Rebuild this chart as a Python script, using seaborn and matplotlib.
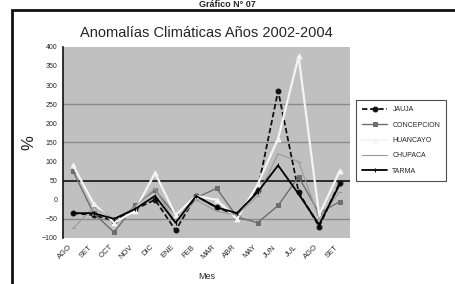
import seaborn as sns
import matplotlib.pyplot as plt
import matplotlib.patches as patches
import pandas as pd

# Month labels (Ago 2002 ... Set 2003 style axis)
meses = ['AGO', 'SET', 'OCT', 'NOV', 'DIC', 'ENE', 'FEB', 'MAR',
         'ABR', 'MAY', 'JUN', 'JUL', 'AGO', 'SET']

# Anomaly values (%)
jauja = [-35, -40, -55, -25, 0, -80, 10, -20, -40, 25, 285, 20, -70, 45]
concepcion = [75, -35, -85, -15, 25, -40, 5, 30, -45, -60, -15, 60, -35, -5]
huancayo = [90, -10, -60, -30, 70, -40, 10, 0, -50, 40, 160, 375, -40, 75]
chupaca = [-75, -20, -50, -20, 30, -60, 0, -30, -40, 10, 120, 100, -50, 20]
tarma = [-35, -35, -50, -25, 10, -60, 10, -20, -35, 20, 90, 15, -65, 40]

series = {'JAUJA': jauja, 'CONCEPCION': concepcion, 'HUANCAYO': huancayo,
          'CHUPACA': chupaca, 'TARMA': tarma}

rows = []
for name, vals in series.items():
    for i, v in enumerate(vals):
        rows.append({'idx': i, 'valor': v, 'estacion': name})
df = pd.DataFrame(rows)

sns.set_style('white')
plt.rcParams['font.family'] = ['Liberation Sans', 'DejaVu Sans']

fig = plt.figure(figsize=(4.55, 2.84), dpi=100)
ax = fig.add_axes([0.138, 0.162, 0.631, 0.673])
ax.set_facecolor('#c0c0c0')

palette = {'JAUJA': '#111111', 'CONCEPCION': '#6e6e6e', 'HUANCAYO': '#f4f4f4',
           'CHUPACA': '#9a9a9a', 'TARMA': '#000000'}
dashes = {'JAUJA': (3, 1.5), 'CONCEPCION': '', 'HUANCAYO': '', 'CHUPACA': '', 'TARMA': ''}
markers = {'JAUJA': 'o', 'CONCEPCION': 's', 'HUANCAYO': '^', 'CHUPACA': '_', 'TARMA': '|'}
widths = {'JAUJA': 1.3, 'CONCEPCION': 1.0, 'HUANCAYO': 1.6, 'CHUPACA': 0.8, 'TARMA': 1.3}

# reference lines
for g in [250, 150, -50]:
    ax.axhline(g, color='#8a8a8a', lw=1.0, zorder=0)
ax.axhline(50, color='#111111', lw=1.2, zorder=1)

for name in series:
    sns.lineplot(data=df[df['estacion'] == name], x='idx', y='valor', ax=ax,
                 color=palette[name], lw=widths[name], label=name,
                 dashes=dashes[name] if dashes[name] else (None, None),
                 marker=markers[name], markersize=3.5,
                 markeredgecolor=palette[name], zorder=3)

ax.set_xlim(-0.5, 13.5)
ax.set_ylim(-100, 400)
ax.set_yticks(range(-100, 401, 50))
ax.set_xticks(range(len(meses)))
ax.set_xticklabels(meses, rotation=45, ha='right', fontsize=5.5)
ax.tick_params(axis='y', labelsize=5, length=2, pad=2)
ax.tick_params(axis='x', length=2, pad=2)
for s in ['top', 'right', 'bottom']:
    ax.spines[s].set_visible(False)
ax.spines['left'].set_color('#111111')
ax.spines['left'].set_linewidth(1.2)

ax.set_ylabel('%', fontsize=12, labelpad=4)
ax.set_xlabel('Mes', fontsize=6.5, labelpad=8)
ax.set_title('Anomalías Climáticas Años 2002-2004', fontsize=10.5, pad=7)

leg = ax.legend(loc='center left', bbox_to_anchor=(1.01, 0.51), fontsize=5,
                frameon=True, fancybox=False, edgecolor='#222222',
                handlelength=3.5, borderpad=0.9, labelspacing=1.2)
leg.get_frame().set_linewidth(0.8)

# outer frame and figure heading
fig.add_artist(patches.Rectangle((12 / 455, -0.05), 1.05, 1.0 - 10 / 284 + 0.05,
                                 transform=fig.transFigure, fill=False,
                                 lw=2, edgecolor='#111111'))
fig.text(0.5, 0.999, 'Gráfico N° 07', ha='center', va='top', fontsize=6.5, weight='bold')

fig.savefig('out.png', dpi=100)
